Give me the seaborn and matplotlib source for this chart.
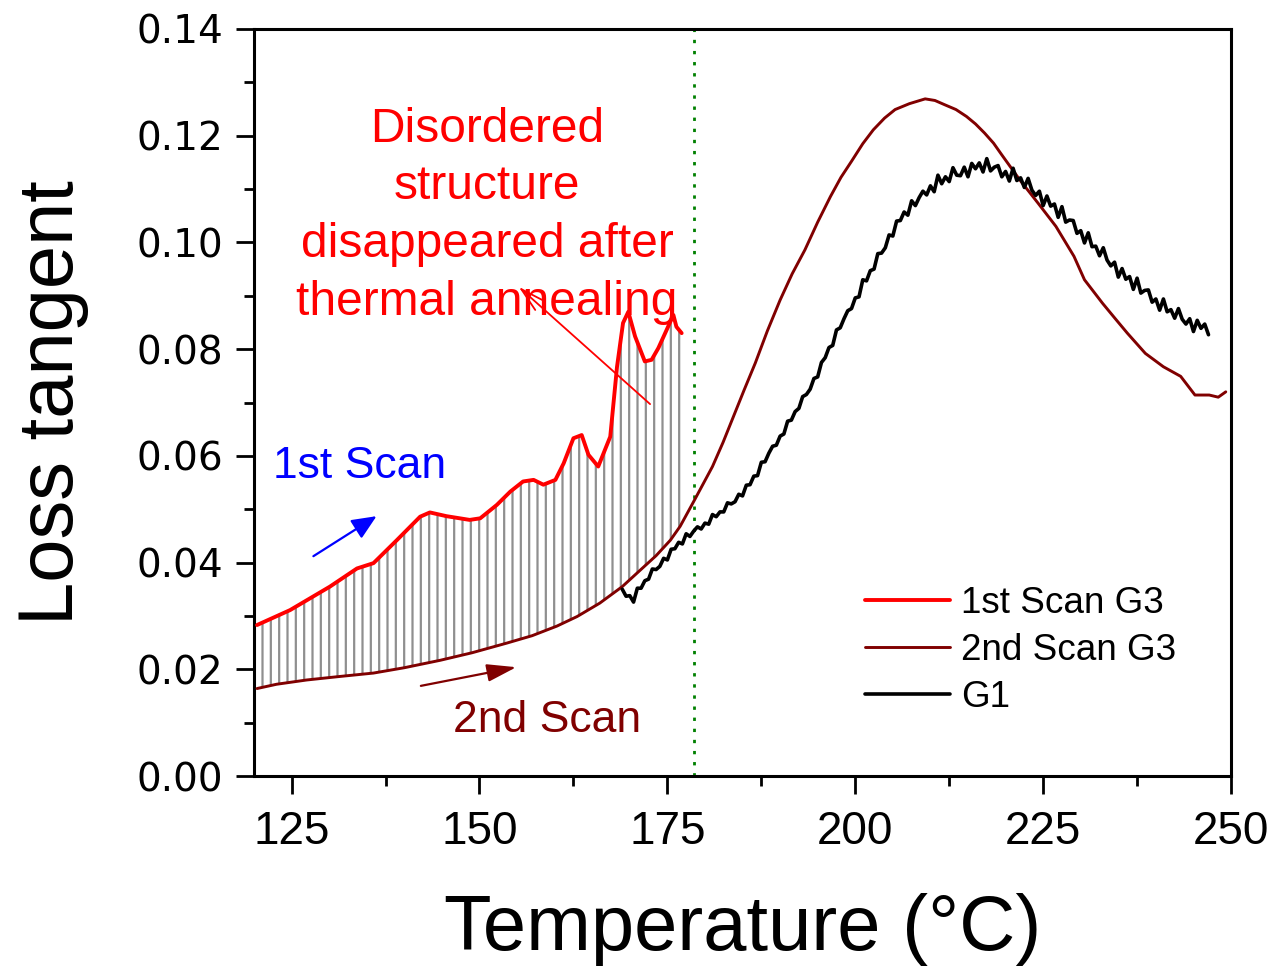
import numpy as np
import pandas as pd
import matplotlib
matplotlib.use("Agg")
import matplotlib.pyplot as plt
import seaborn as sns

# ---------------- data ----------------
scan1_T = [120.4, 124.8, 130.1, 133.7, 135.9, 139.0, 142.1, 143.4, 145.6, 148.7,
           150.1, 152.3, 154.1, 155.8, 157.2, 158.5, 160.1, 161.2, 162.5, 163.6,
           164.5, 165.8, 167.4, 168.3, 169.1, 169.8, 170.7, 172.0, 172.9, 173.8,
           174.9, 175.8, 176.2, 176.9]
scan1_v = [0.0283, 0.0311, 0.0355, 0.0389, 0.0399, 0.0442, 0.0486, 0.0494, 0.0487, 0.0480,
           0.0483, 0.0508, 0.0533, 0.0552, 0.0555, 0.0546, 0.0555, 0.0586, 0.0633, 0.0639,
           0.0602, 0.0580, 0.0636, 0.0767, 0.0849, 0.0870, 0.0824, 0.0777, 0.0780, 0.0802,
           0.0836, 0.0864, 0.0842, 0.0830]

scan2_T = [120.4, 123.0, 127.0, 131.0, 135.9, 140.0, 144.8, 149.0, 153.6, 157.0,
           160.3, 163.0, 166.0, 169.0, 171.4, 173.5, 175.4, 176.7, 178.6, 181.0,
           182.4, 183.8, 185.2, 186.7, 188.3, 190.0, 191.6, 193.3, 195.0, 196.7,
           198.1, 199.5, 201.0, 202.4, 203.9, 205.3, 207.2, 209.3, 210.6, 211.9,
           213.4, 214.8, 216.0, 217.2, 218.4, 219.5, 221.9, 224.3, 226.7, 229.1,
           230.5, 232.9, 234.6, 236.2, 238.6, 241.0, 243.3, 245.2, 247.1, 248.3, 249.3]
scan2_v = [0.0164, 0.0172, 0.0180, 0.0186, 0.0193, 0.0203, 0.0217, 0.0231, 0.0249, 0.0263,
           0.0281, 0.0299, 0.0324, 0.0355, 0.0386, 0.0413, 0.0442, 0.0468, 0.0517, 0.0580,
           0.0625, 0.0674, 0.0723, 0.0774, 0.0834, 0.0892, 0.0941, 0.0986, 0.1038, 0.1086,
           0.1122, 0.1152, 0.1185, 0.1211, 0.1233, 0.1249, 0.1260, 0.1269, 0.1266, 0.1258,
           0.1249, 0.1236, 0.1222, 0.1205, 0.1186, 0.1164, 0.1117, 0.1074, 0.1030, 0.0974,
           0.0930, 0.0886, 0.0857, 0.0830, 0.0792, 0.0767, 0.0749, 0.0714, 0.0714, 0.0710, 0.0720]

# G1: sampled every 0.5 °C starting at 169 °C
g1_start = 169.0
g1_step = 0.5
g1_v = [0.0350, 0.0337, 0.0338, 0.0326, 0.0352, 0.0352, 0.0366, 0.0369, 0.0388, 0.0387,
        0.0393, 0.0408, 0.0405, 0.0425, 0.0426, 0.0438, 0.0435, 0.0454, 0.0449, 0.0459,
        0.0467, 0.0463, 0.0474, 0.0472, 0.0490, 0.0486, 0.0495, 0.0495, 0.0512, 0.0510,
        0.0514, 0.0528, 0.0525, 0.0545, 0.0546, 0.0562, 0.0563, 0.0588, 0.0589, 0.0605,
        0.0618, 0.0620, 0.0637, 0.0641, 0.0665, 0.0667, 0.0683, 0.0689, 0.0711, 0.0715,
        0.0725, 0.0745, 0.0748, 0.0775, 0.0784, 0.0803, 0.0807, 0.0836, 0.0840, 0.0857,
        0.0872, 0.0876, 0.0896, 0.0898, 0.0930, 0.0928, 0.0947, 0.0950, 0.0979, 0.0980,
        0.0990, 0.1014, 0.1012, 0.1040, 0.1041, 0.1057, 0.1051, 0.1078, 0.1069, 0.1084,
        0.1096, 0.1089, 0.1106, 0.1095, 0.1126, 0.1110, 0.1123, 0.1114, 0.1140, 0.1126,
        0.1125, 0.1141, 0.1123, 0.1148, 0.1138, 0.1149, 0.1132, 0.1157, 0.1134, 0.1141,
        0.1144, 0.1123, 0.1133, 0.1115, 0.1139, 0.1116, 0.1121, 0.1103, 0.1120, 0.1098,
        0.1088, 0.1096, 0.1069, 0.1087, 0.1068, 0.1072, 0.1047, 0.1067, 0.1038, 0.1042,
        0.1041, 0.1017, 0.1022, 0.0999, 0.1018, 0.0992, 0.0993, 0.0975, 0.0990, 0.0967,
        0.0956, 0.0963, 0.0935, 0.0951, 0.0931, 0.0936, 0.0912, 0.0933, 0.0905, 0.0910,
        0.0911, 0.0888, 0.0894, 0.0873, 0.0894, 0.0870, 0.0874, 0.0858, 0.0876, 0.0856,
        0.0847, 0.0857, 0.0833, 0.0854, 0.0839, 0.0847, 0.0827]
g1_T = g1_start + g1_step * np.arange(len(g1_v))

legend_labels = ["1st Scan G3", "2nd Scan G3", "G1"]
x_ticks = [125, 150, 175, 200, 225, 250]
y_ticks = [0.00, 0.02, 0.04, 0.06, 0.08, 0.10, 0.12, 0.14]
vline_T = 178.5

# ---------------- style ----------------
sns.set_theme(style="ticks")
plt.rcParams["font.family"] = ["Liberation Sans", "DejaVu Sans"]
plt.rcParams["hatch.linewidth"] = 1.6
for k in ["text.color", "axes.labelcolor", "xtick.color", "ytick.color", "axes.edgecolor"]:
    plt.rcParams[k] = "black"

RED = "#ff0000"
DARKRED = "#800000"

fig = plt.figure(figsize=(12.72, 9.72), dpi=100)
ax = fig.add_axes([0.1997, 0.2016, 0.7681, 0.7686])

# hatched region between first and second scans
lower = np.interp(scan1_T, scan2_T, scan2_v)
ax.fill_between(scan1_T, lower, scan1_v, facecolor="none", edgecolor="#8f8f8f",
                hatch="||", linewidth=0, zorder=1)

df1 = pd.DataFrame({"T": scan1_T, "v": scan1_v})
df2 = pd.DataFrame({"T": scan2_T, "v": scan2_v})
dfg = pd.DataFrame({"T": g1_T, "v": g1_v})

sns.lineplot(data=df2, x="T", y="v", color=DARKRED, lw=2.1, ax=ax,
             label=legend_labels[1], estimator=None, sort=False, zorder=3)
sns.lineplot(data=dfg, x="T", y="v", color="black", lw=2.6, ax=ax,
             label=legend_labels[2], estimator=None, sort=False, zorder=3)
sns.lineplot(data=df1, x="T", y="v", color=RED, lw=2.8, ax=ax,
             label=legend_labels[0], estimator=None, sort=False, zorder=4)

ax.axvline(vline_T, color="#008000", lw=2.0, linestyle=(0, (1.2, 2.8)), zorder=2)

# axes
ax.set_xlim(120, 250)
ax.set_ylim(0, 0.14)
ax.set_xticks(x_ticks)
ax.set_yticks(y_ticks)
ax.set_yticklabels([f"{t:.2f}" for t in y_ticks], family="DejaVu Sans", fontsize=28)
ax.set_xticklabels([str(t) for t in x_ticks], fontsize=33)
ax.set_xticks(np.arange(137.5, 250, 25), minor=True)
ax.set_yticks(np.arange(0.01, 0.14, 0.02), minor=True)
ax.tick_params(which="major", direction="out", length=13, width=2.0, color="black")
ax.tick_params(which="minor", direction="out", length=7, width=2.0, color="black")
ax.tick_params(axis="y", which="major", pad=9)
ax.tick_params(axis="x", which="major", pad=11.5)
for s in ax.spines.values():
    s.set_linewidth(2.2)
    s.set_color("black")

ax.set_xlabel("Temperature (°C)", fontsize=56, labelpad=28)
ax.set_ylabel("Loss tangent", fontsize=56, labelpad=34)

# annotations
ax.text(151.0, 0.1050, "Disordered\nstructure\ndisappeared after\nthermal annealing",
        color=RED, fontsize=34.5, ha="center", va="center", linespacing=1.36)
ax.text(134.1, 0.0581, "1st Scan", color="blue", fontsize=32, ha="center", va="center")
ax.text(159.0, 0.0105, "2nd Scan", color=DARKRED, fontsize=32, ha="center", va="center")

ax.annotate("", xy=(136.3, 0.0487), xytext=(127.9, 0.0412),
            arrowprops=dict(arrowstyle="-|>,head_length=0.5,head_width=0.22",
                            color="blue", lw=1.6, mutation_scale=30, shrinkA=0, shrinkB=0))
ax.annotate("", xy=(154.9, 0.0204), xytext=(142.2, 0.0169),
            arrowprops=dict(arrowstyle="-|>,head_length=0.6,head_width=0.18",
                            color=DARKRED, lw=1.6, mutation_scale=30, shrinkA=0, shrinkB=0))
ax.annotate("", xy=(155.2, 0.0917), xytext=(172.7, 0.0697),
            arrowprops=dict(arrowstyle="->,head_length=0.7,head_width=0.18",
                            color=RED, lw=1.3, mutation_scale=25, shrinkA=0, shrinkB=0))

# legend
handles, labels = ax.get_legend_handles_labels()
order = [labels.index(l) for l in legend_labels]
ax.legend([handles[i] for i in order], [labels[i] for i in order],
          loc="upper left", bbox_to_anchor=(865 / 1272, 1 - 586 / 972),
          bbox_transform=fig.transFigure, frameon=False, fontsize=26.6,
          handlelength=2.3, handletextpad=0.3, labelspacing=0.33,
          borderpad=0, borderaxespad=0)

fig.savefig("out.png", dpi=100)
